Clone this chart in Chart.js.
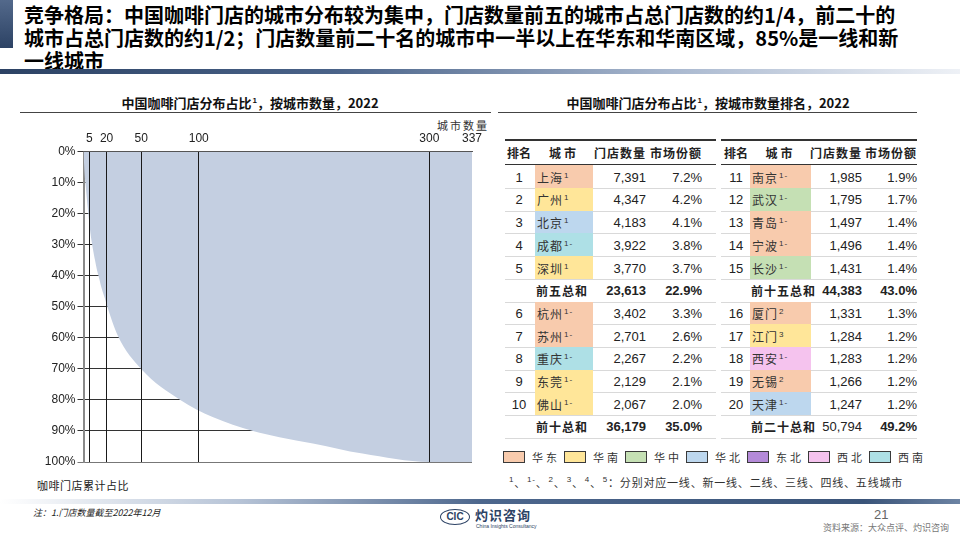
<!DOCTYPE html>
<html lang="zh-CN">
<head>
<meta charset="utf-8">
<title>中国咖啡门店分布占比</title>
<script src="https://cdn.jsdelivr.net/npm/chart.js@4.4.0/dist/chart.umd.min.js"></script>
<style>
    html, body { margin: 0; padding: 0; }
    body {
        width: 960px; height: 540px; position: relative; overflow: hidden; background: #fff;
        font-family: "Noto Sans CJK SC", "Liberation Sans", sans-serif; color: #222;
    }
    .abs { position: absolute; white-space: nowrap; }
    .num { font-family: "Liberation Sans", Arial, sans-serif; }
    sup { font-family: "Liberation Sans", Arial, sans-serif; font-size: 8px; vertical-align: 5px; line-height: 0; margin-left: 1px; }
    #title { left: 24px; top: 3px; font-size: 20px; font-weight: 700; line-height: 23px; color: #000; }
    .sub-title { top: 102px; font-size: 13px; font-weight: 700; color: #111; transform: translate(-50%, -50%); }
    #chartBox { position: absolute; left: 0; top: 115px; width: 500px; height: 360px; }
</style>
</head>
<body>

<div class="abs" style="left:0;top:0;width:13px;height:48px;background:linear-gradient(to bottom,#53698b,#2c4264);"></div>
<div class="abs" id="title">竞争格局：中国咖啡门店的城市分布较为集中，门店数量前五的城市占总门店数的约1/4，前二十的<br>城市占总门店数的约1/2；门店数量前二十名的城市中一半以上在华东和华南区域，85%是一线和新<br>一线城市</div>
<div class="abs" style="left:0;top:69px;width:960px;height:5px;background:linear-gradient(to right,#2c4264 0%,#4a6389 35%,#a9b8cf 70%,#eef1f6 100%);"></div>

<div class="abs sub-title" style="left:250px;">中国咖啡门店分布占比<sup>1</sup>，按城市数量，2022</div>
<div class="abs sub-title" style="left:708px;">中国咖啡门店分布占比<sup>1</sup>，按城市数量排名，2022</div>
<div class="abs" style="left:20px;top:112px;width:471px;height:1px;background:#444;"></div>
<div class="abs" style="left:498px;top:112px;width:419px;height:1px;background:#444;"></div>

<div class="abs" style="left:437px;top:117px;font-size:11px;letter-spacing:2px;color:#333;">城市数量</div>
<div id="chartBox"><canvas id="shareChart" width="500" height="360"></canvas></div>
<div class="abs" style="left:37px;top:477px;font-size:11px;letter-spacing:0.5px;color:#222;">咖啡门店累计占比</div>

<div class="abs" style="left:0;top:499px;width:960px;height:5px;background:linear-gradient(to right,#ffffff 0%,#b6c3d6 25%,#4d678d 50%,#3a5479 90%,#6c83a3 100%);"></div>
<div class="abs" style="left:33px;top:506px;font-size:9px;font-style:italic;color:#222;">注：1.门店数量截至2022年12月</div>
<div class="abs" style="left:440px;top:509px;width:28px;height:14px;border:1.5px solid #2c4264;border-radius:50%;font:bold 10px 'Liberation Sans';color:#2c4264;text-align:center;line-height:14px;">CIC</div>
<div class="abs" style="left:475px;top:505px;font-size:13px;font-weight:700;color:#2c4264;letter-spacing:1px;">灼识咨询</div>
<div class="abs" style="left:476px;top:523px;font:5px 'Liberation Sans';color:#2c4264;">China Insights Consultancy</div>
<div class="abs num" style="left:874px;top:507px;font-size:13px;color:#666;">21</div>
<div class="abs" style="left:823px;top:521px;font-size:9px;color:#777;">资料来源：大众点评、灼识咨询</div>

<script>
// cumulative share curve: number of cities vs cumulative share of stores (%)
const curveCities = [0, 1, 2, 3, 4, 5, 6, 7, 8, 9, 10, 11, 12, 13, 14, 15, 16, 17, 18, 19, 20, 30, 50, 84, 112, 147, 170, 199, 242, 300, 337];
const curveShare = [0, 7.2, 11.4, 15.5, 19.3, 22.9, 26.2, 28.8, 31.0, 33.1, 35.0, 36.9, 38.6, 40.0, 41.4, 43.0, 44.3, 45.5, 46.7, 47.9, 49.2, 59.5, 70, 80, 85.5, 90, 92, 94, 97.3, 100, 100];
const xTickValues = [5, 20, 50, 100, 300, 337];

// top 20 cities table
const rankCities = ['上海', '广州', '北京', '成都', '深圳', '杭州', '苏州', '重庆', '东莞', '佛山',
    '南京', '武汉', '青岛', '宁波', '长沙', '厦门', '江门', '西安', '无锡', '天津'];
const cityTiers = ['1', '1', '1', '1-', '1', '1-', '1-', '1-', '1-', '1-',
    '1-', '1-', '1-', '1-', '1-', '2', '3', '1-', '2', '1-'];
const cityRegions = ['华东', '华南', '华北', '西南', '华南', '华东', '华东', '西南', '华南', '华南',
    '华东', '华中', '华东', '华东', '华中', '华东', '华南', '西北', '华东', '华北'];
const storeCounts = [7391, 4347, 4183, 3922, 3770, 3402, 2701, 2267, 2129, 2067,
    1985, 1795, 1497, 1496, 1431, 1331, 1284, 1283, 1266, 1247];
const marketShares = [7.2, 4.2, 4.1, 3.8, 3.7, 3.3, 2.6, 2.2, 2.1, 2.0,
    1.9, 1.7, 1.4, 1.4, 1.4, 1.3, 1.2, 1.2, 1.2, 1.2];
const subtotalLabels = ['前五总和', '前十总和', '前十五总和', '前二十总和'];
const subtotalStores = [23613, 36179, 44383, 50794];
const subtotalShares = [22.9, 35.0, 43.0, 49.2];
const regionNames = ['华东', '华南', '华中', '华北', '东北', '西北', '西南'];

const regionColors = {
    '华东': '#f8cbad', '华南': '#ffe699', '华中': '#c5e0b4', '华北': '#bdd7ee',
    '东北': '#b48ad8', '西北': '#f5c3ee', '西南': '#aee0e6'
};

function place(html, css, cls) {
    const d = document.createElement('div');
    d.className = 'abs' + (cls ? ' ' + cls : '');
    d.style.cssText = css;
    d.innerHTML = html;
    document.body.appendChild(d);
    return d;
}

function hLine(left, top, width, color, h) {
    place('', `left:${left}px;top:${top}px;width:${width}px;height:${h || 1}px;background:${color};`);
}

function fmt(n) {
    return n.toLocaleString('en-US');
}

// table layout
const panels = [
    { left: 505, right: 716, rank: 519, cityL: 535, cityR: 593, stores: 646, share: 702 },
    { left: 721, right: 917, rank: 736, cityL: 750, cityR: 811, stores: 862, share: 917 }
];
const headerY = 151.7, firstRowY = 176.7, rowH = 22.7;
const subtotalStoreBold = [true, true, true, false];

function renderTable() {
    panels.forEach((p, pi) => {
        const w = p.right - p.left;
        hLine(p.left, 139, w, '#333', 1.5);
        hLine(p.left, 163.5, w, '#333', 1.5);
        place('排名', `left:${p.rank}px;top:${headerY}px;transform:translate(-50%,-50%);font-size:12px;font-weight:700;`);
        place('城市', `left:${(p.cityL + p.cityR) / 2}px;top:${headerY}px;transform:translate(-50%,-50%);font-size:12px;font-weight:700;letter-spacing:3px;`);
        place('门店数量', `left:${p.stores}px;top:${headerY}px;transform:translate(-100%,-50%);font-size:12px;font-weight:700;letter-spacing:1px;`);
        place('市场份额', `left:${p.share}px;top:${headerY}px;transform:translate(-100%,-50%);font-size:12px;font-weight:700;letter-spacing:1px;`);

        for (let r = 0; r < 12; r++) {
            const y = firstRowY + r * rowH;
            if (r < 11) hLine(p.left, y + rowH / 2, w, '#d9d9d9');
            if (r === 5 || r === 11) {
                const s = pi * 2 + (r === 5 ? 0 : 1);
                place(subtotalLabels[s], `left:${p.cityL + 1}px;top:${y}px;transform:translateY(-50%);font-size:12px;font-weight:700;letter-spacing:1px;`);
                place(fmt(subtotalStores[s]), `left:${p.stores}px;top:${y}px;transform:translate(-100%,-50%);font-size:13px;font-weight:${subtotalStoreBold[s] ? 700 : 400};`, 'num');
                place(subtotalShares[s].toFixed(1) + '%', `left:${p.share}px;top:${y}px;transform:translate(-100%,-50%);font-size:13px;font-weight:700;`, 'num');
                continue;
            }
            const i = pi * 10 + (r < 5 ? r : r - 1);
            place('', `left:${p.cityL}px;top:${y - rowH / 2}px;width:${p.cityR - p.cityL}px;height:${rowH}px;background:${regionColors[cityRegions[i]]};`);
            place(String(i + 1), `left:${p.rank}px;top:${y}px;transform:translate(-50%,-50%);font-size:13px;`, 'num');
            place(rankCities[i] + '<sup>' + cityTiers[i] + '</sup>', `left:${p.cityL + 2}px;top:${y}px;transform:translateY(-50%);font-size:12px;color:#333;letter-spacing:1px;`);
            place(fmt(storeCounts[i]), `left:${p.stores}px;top:${y}px;transform:translate(-100%,-50%);font-size:13px;`, 'num');
            place(marketShares[i].toFixed(1) + '%', `left:${p.share}px;top:${y}px;transform:translate(-100%,-50%);font-size:13px;`, 'num');
        }
        hLine(p.left, firstRowY + 11 * rowH + rowH / 2, w, '#d9d9d9');
    });

    // region legend
    regionNames.forEach((name, k) => {
        const x = 503 + k * 61;
        place('', `left:${x}px;top:451px;width:20px;height:10px;border:1.5px solid #3a3a3a;background:${regionColors[name]};`);
        place(name, `left:${x + 29}px;top:457px;transform:translateY(-50%);font-size:11px;letter-spacing:3px;color:#333;`);
    });
    place('<sup>1</sup>、<sup>1-</sup>、<sup>2</sup>、<sup>3</sup>、<sup>4</sup>、<sup>5</sup>：分别对应一线、新一线、二线、三线、四线、五线城市',
        'left:508px;top:482px;transform:translateY(-50%);font-size:11px;letter-spacing:0.8px;color:#333;');
}

function renderChart() {
    const ctx = document.getElementById('shareChart');
    new Chart(ctx, {
        type: 'line',
        data: {
            datasets: [{
                data: curveCities.map((c, i) => ({ x: c, y: curveShare[i] })),
                fill: { value: 0 },
                backgroundColor: '#c4cfe1',
                borderWidth: 0,
                pointRadius: 0,
                cubicInterpolationMode: 'monotone'
            }]
        },
        options: {
            responsive: false,
            animation: false,
            devicePixelRatio: 1,
            layout: { padding: { left: 0, right: 28, top: 0, bottom: 13 } },
            plugins: {
                legend: { display: false },
                tooltip: { enabled: false }
            },
            scales: {
                x: {
                    type: 'linear',
                    position: 'top',
                    min: 0,
                    max: 337,
                    afterBuildTicks: scale => { scale.ticks = xTickValues.map(v => ({ value: v })); },
                    afterFit: scale => { scale.height = 36.7; },
                    ticks: {
                        autoSkip: false,
                        maxRotation: 0,
                        padding: 6,
                        color: '#222',
                        font: { family: 'Liberation Sans', size: 12 },
                        callback: v => String(v)
                    },
                    grid: {
                        z: 1,
                        drawTicks: false,
                        lineWidth: 1,
                        color: c => (c.tick && c.tick.value === 337) ? 'rgba(0,0,0,0)' : '#1a1a1a'
                    },
                    border: { z: 1, color: '#555', width: 1 }
                },
                y: {
                    reverse: true,
                    min: 0,
                    max: 100,
                    afterFit: scale => { scale.width = 83.5; },
                    ticks: {
                        stepSize: 10,
                        padding: 2,
                        color: '#222',
                        font: { family: 'Liberation Sans', size: 12 },
                        callback: v => v + '%'
                    },
                    grid: {
                        tickLength: 6,
                        lineWidth: 1,
                        color: c => (c.tick && c.tick.value === 100) ? '#777' : '#333'
                    },
                    border: { color: '#8a8a8a', width: 2 }
                }
            }
        }
    });
}

renderTable();
renderChart();
</script>
</body>
</html>
